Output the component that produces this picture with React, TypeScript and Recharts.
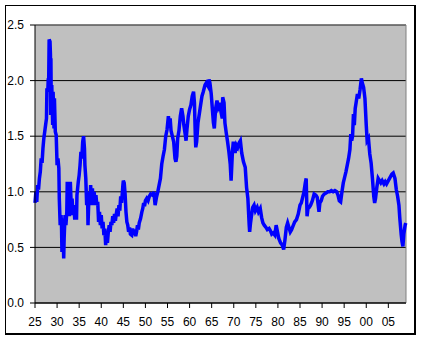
import React from 'react';
import { LineChart, Line, XAxis, YAxis, CartesianGrid, ReferenceLine } from 'recharts';

const years: number[] = [
  1925.0, 1925.2, 1925.4, 1925.6, 1925.8, 1926.0, 1926.2, 1926.4, 1926.6, 1926.8,
  1927.0, 1927.2, 1927.4, 1927.6, 1927.7, 1927.9, 1928.0, 1928.1, 1928.2, 1928.4,
  1928.5, 1928.55, 1928.6, 1928.7, 1928.8, 1929.0, 1929.1, 1929.3, 1929.4, 1929.6,
  1929.8, 1930.0, 1930.2, 1930.4, 1930.5, 1930.7, 1930.9, 1931.0, 1931.1, 1931.3,
  1931.5, 1931.6, 1931.8, 1932.0, 1932.2, 1932.3, 1932.5, 1932.6, 1932.8, 1933.0,
  1933.2, 1933.4, 1933.6, 1933.8, 1934.0, 1934.2, 1934.4, 1934.5, 1934.8, 1935.0,
  1935.2, 1935.4, 1935.6, 1935.8, 1936.0, 1936.2, 1936.3, 1936.5, 1936.7, 1936.9,
  1937.0, 1937.2, 1937.4, 1937.6, 1937.8, 1938.0, 1938.2, 1938.4, 1938.6, 1938.8,
  1939.0, 1939.2, 1939.4, 1939.6, 1939.8, 1940.0, 1940.2, 1940.4, 1940.6, 1940.8,
  1941.0, 1941.2, 1941.4, 1941.6, 1941.8, 1942.0, 1942.2, 1942.4, 1942.6, 1942.8,
  1943.0, 1943.2, 1943.4, 1943.6, 1943.8, 1944.0, 1944.2, 1944.4, 1944.6, 1944.9,
  1945.0, 1945.2, 1945.4, 1945.6, 1945.8, 1946.0, 1946.2, 1946.4, 1946.6, 1946.9,
  1947.1, 1947.3, 1947.5, 1947.8, 1948.0, 1948.2, 1948.4, 1948.6, 1948.9, 1949.2,
  1949.4, 1949.6, 1949.8, 1950.0, 1950.3, 1950.6, 1950.9, 1951.2, 1951.6, 1951.9,
  1952.2, 1952.5, 1952.8, 1953.1, 1953.4, 1953.7, 1954.0, 1954.3, 1954.6, 1954.9,
  1955.2, 1955.4, 1955.6, 1955.8, 1956.1, 1956.4, 1956.7, 1956.9, 1957.1, 1957.3,
  1957.6, 1957.9, 1958.2, 1958.5, 1958.7, 1959.0, 1959.2, 1959.4, 1959.7, 1960.0,
  1960.3, 1960.6, 1960.9, 1961.1, 1961.3, 1961.4, 1961.6, 1961.9, 1962.2, 1962.5,
  1962.8, 1963.1, 1963.5, 1963.8, 1964.2, 1964.4, 1964.6, 1964.9, 1965.2, 1965.4,
  1965.6, 1965.9, 1966.2, 1966.5, 1966.9, 1967.1, 1967.4, 1967.5, 1967.8, 1968.0,
  1968.3, 1968.6, 1968.9, 1969.2, 1969.4, 1969.7, 1969.9, 1970.3, 1970.6, 1970.9,
  1971.2, 1971.5, 1971.8, 1972.2, 1972.6, 1972.9, 1973.2, 1973.5, 1973.6, 1973.8,
  1974.0, 1974.3, 1974.6, 1974.9, 1975.3, 1975.6, 1976.0, 1976.3, 1976.6, 1976.9,
  1977.3, 1977.6, 1978.0, 1978.3, 1978.6, 1978.9, 1979.3, 1979.6, 1979.9, 1980.2,
  1980.6, 1981.0, 1981.3, 1981.6, 1981.9, 1982.2, 1982.5, 1982.8, 1983.1, 1983.5,
  1983.8, 1984.2, 1984.6, 1985.0, 1985.3, 1985.6, 1985.9, 1986.2, 1986.4, 1986.6,
  1986.8, 1987.1, 1987.4, 1987.8, 1988.2, 1988.6, 1988.9, 1989.3, 1989.5, 1989.8,
  1990.1, 1990.5, 1990.9, 1991.3, 1991.7, 1992.1, 1992.5, 1992.9, 1993.3, 1993.6,
  1993.9, 1994.2, 1994.5, 1994.8, 1995.1, 1995.4, 1995.7, 1996.0, 1996.3, 1996.5,
  1996.7, 1996.9, 1997.1, 1997.3, 1997.5, 1997.7, 1998.0, 1998.3, 1998.6, 1998.9,
  1999.1, 1999.4, 1999.7, 2000.0, 2000.2, 2000.5, 2000.8, 2001.1, 2001.4, 2001.7,
  2001.9, 2002.1, 2002.4, 2002.7, 2003.0, 2003.3, 2003.6, 2004.0, 2004.3, 2004.6,
  2005.0, 2005.4, 2005.8, 2006.1, 2006.5, 2006.8, 2007.1, 2007.4, 2007.6, 2007.9,
  2008.1, 2008.3, 2008.5, 2008.8, 2008.95,
];

const values: number[] = [
  0.90, 1.00, 0.91, 1.06, 1.02, 1.12, 1.18, 1.30, 1.26, 1.39,
  1.48, 1.54, 1.60, 1.66, 1.93, 1.90, 2.02, 2.00, 2.37, 2.35,
  2.23, 1.69, 2.20, 1.69, 1.96, 1.60, 1.90, 1.57, 1.84, 1.54,
  1.51, 1.24, 1.30, 1.21, 0.94, 0.70, 0.79, 0.70, 0.46, 0.76,
  0.40, 0.58, 0.79, 0.70, 0.82, 1.09, 0.82, 1.06, 0.78, 1.09,
  0.88, 0.94, 0.79, 0.88, 0.75, 0.84, 0.75, 0.97, 1.09, 1.15,
  1.24, 1.36, 1.30, 1.45, 1.50, 1.39, 1.24, 1.12, 0.88, 1.00,
  0.70, 0.94, 0.88, 1.06, 0.88, 1.03, 0.88, 1.00, 0.88, 0.97,
  0.88, 0.91, 0.73, 0.82, 0.70, 0.79, 0.67, 0.73, 0.61, 0.67,
  0.52, 0.64, 0.54, 0.64, 0.70, 0.64, 0.73, 0.70, 0.78, 0.72,
  0.80, 0.74, 0.80, 0.85, 0.78, 0.88, 0.83, 0.96, 0.90, 1.06,
  1.10, 1.08, 0.98, 0.82, 0.73, 0.70, 0.64, 0.68, 0.62, 0.61,
  0.67, 0.62, 0.66, 0.60, 0.64, 0.70, 0.66, 0.72, 0.76, 0.82,
  0.85, 0.90, 0.87, 0.92, 0.94, 0.92, 0.96, 0.98, 0.97, 1.00,
  0.88, 0.95, 1.00, 1.06, 1.12, 1.25, 1.32, 1.38, 1.50, 1.56,
  1.68, 1.62, 1.66, 1.55, 1.50, 1.45, 1.30, 1.27, 1.32, 1.48,
  1.55, 1.68, 1.75, 1.68, 1.60, 1.52, 1.46, 1.56, 1.68, 1.74,
  1.78, 1.86, 1.90, 1.80, 1.50, 1.40, 1.45, 1.62, 1.70, 1.78,
  1.86, 1.90, 1.96, 1.98, 1.95, 2.01, 1.98, 1.88, 1.72, 1.62,
  1.57, 1.75, 1.82, 1.76, 1.80, 1.72, 1.66, 1.85, 1.80, 1.62,
  1.53, 1.45, 1.36, 1.25, 1.10, 1.36, 1.45, 1.35, 1.42, 1.40,
  1.44, 1.46, 1.35, 1.27, 1.22, 1.04, 0.94, 0.70, 0.64, 0.72,
  0.78, 0.86, 0.88, 0.83, 0.86, 0.82, 0.85, 0.77, 0.72, 0.70,
  0.68, 0.66, 0.67, 0.65, 0.62, 0.63, 0.61, 0.70, 0.64, 0.58,
  0.54, 0.52, 0.48, 0.57, 0.68, 0.72, 0.68, 0.64, 0.66, 0.70,
  0.73, 0.75, 0.80, 0.88, 0.90, 0.95, 1.00, 1.08, 1.12, 0.78,
  0.85, 0.86, 0.88, 0.92, 0.98, 0.97, 0.95, 0.82, 0.90, 0.92,
  0.96, 0.98, 0.99, 1.00, 1.00, 1.01, 1.00, 1.01, 1.00, 0.97,
  0.92, 0.91, 1.00, 1.08, 1.13, 1.18, 1.24, 1.30, 1.38, 1.52,
  1.46, 1.50, 1.70, 1.60, 1.75, 1.80, 1.88, 1.84, 1.92, 2.02,
  1.98, 1.94, 1.84, 1.60, 1.46, 1.48, 1.34, 1.26, 1.12, 0.96,
  0.90, 0.94, 1.04, 1.12, 1.10, 1.08, 1.10, 1.07, 1.09, 1.07,
  1.10, 1.13, 1.16, 1.17, 1.12, 1.02, 0.96, 0.88, 0.76, 0.62,
  0.55, 0.51, 0.62, 0.70, 0.72,
];

const xTicks: number[] = [1925, 1930, 1935, 1940, 1945, 1950, 1955, 1960, 1965, 1970, 1975, 1980, 1985, 1990, 1995, 2000, 2005];
const xTickLabels: string[] = ['25', '30', '35', '40', '45', '50', '55', '60', '65', '70', '75', '80', '85', '90', '95', '00', '05'];
const yTicks: number[] = [0, 0.5, 1.0, 1.5, 2.0, 2.5];
const yTickLabels: string[] = ['0.0', '0.5', '1.0', '1.5', '2.0', '2.5'];

const data = years.map((year, i) => ({ year, value: values[i] }));

const FONT = '"Liberation Sans", Arial, sans-serif';

export default function App() {
  return (
    <div style={{ position: 'absolute', left: 0, top: 0, width: 421, height: 339, background: '#fff' }}>
      <div
        style={{
          position: 'absolute',
          left: 5,
          top: 5,
          width: 411,
          height: 330,
          boxSizing: 'border-box',
          borderTop: '1px solid #000',
          borderLeft: '1px solid #000',
          borderRight: '2px solid #000',
          borderBottom: '2px solid #000',
        }}
      />
      <div style={{ position: 'absolute', left: 0, top: 0 }}>
        <LineChart width={421} height={339} data={data} margin={{ top: 25, right: 15, bottom: 6, left: 0 }}>
          <CartesianGrid vertical={false} stroke="#000" strokeWidth={1} fill="#C0C0C0" fillOpacity={1} />
          <XAxis
            dataKey="year"
            type="number"
            domain={[1925, 2009]}
            ticks={xTicks}
            tickFormatter={(v: number) => xTickLabels[xTicks.indexOf(v)] ?? ''}
            axisLine={{ stroke: '#000' }}
            tickLine={{ stroke: '#000' }}
            tickSize={5}
            tickMargin={9}
            height={30}
            interval={0}
            tick={{ fill: '#000', fontSize: 12, fontFamily: FONT }}
          />
          <YAxis
            type="number"
            domain={[0, 2.5]}
            ticks={yTicks}
            tickFormatter={(v: number) => yTickLabels[yTicks.indexOf(v)] ?? ''}
            axisLine={{ stroke: '#000' }}
            tickLine={{ stroke: '#000' }}
            tickSize={5}
            tickMargin={6}
            width={35}
            interval={0}
            tick={{ fill: '#000', fontSize: 12, fontFamily: FONT }}
          />
          <ReferenceLine y={2.5} stroke="#808080" strokeWidth={1} />
          <ReferenceLine x={2009} stroke="#808080" strokeWidth={1} />
          <Line
            type="linear"
            dataKey="value"
            stroke="#0000FF"
            strokeWidth={3.5}
            strokeLinejoin="miter"
            dot={false}
            isAnimationActive={false}
          />
        </LineChart>
      </div>
    </div>
  );
}
